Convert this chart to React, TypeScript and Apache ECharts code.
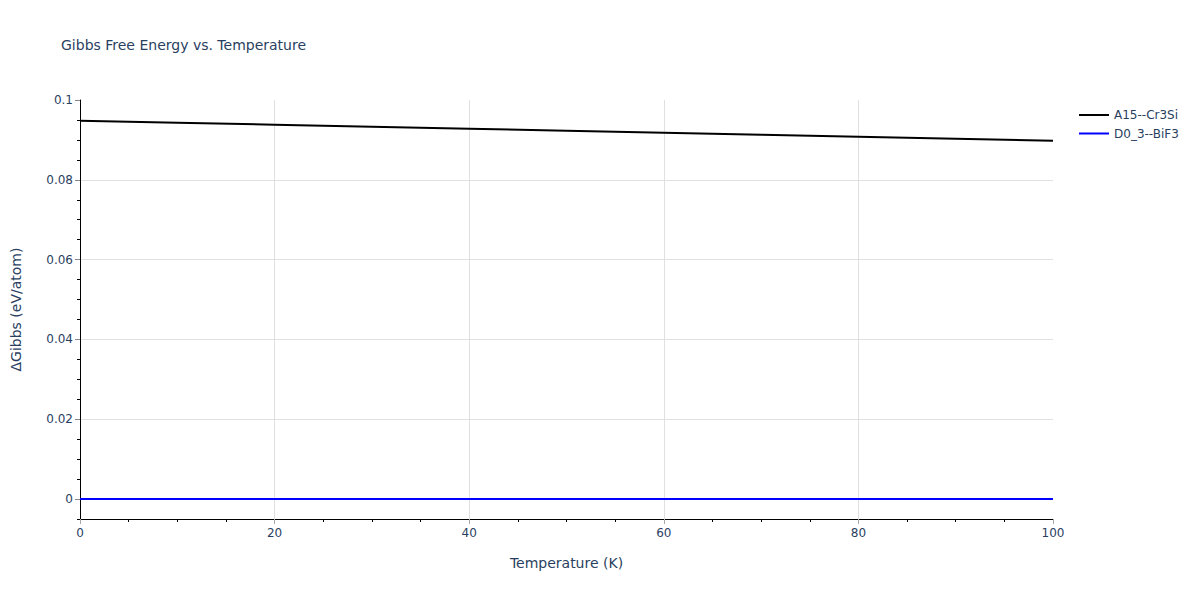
import React, { useEffect, useRef } from "react";
import * as echarts from "echarts";

const TITLE = "Gibbs Free Energy vs. Temperature";
const X_NAME = "Temperature (K)";
const Y_NAME = "ΔGibbs (eV/atom)";
const SERIES_NAMES = ["A15--Cr3Si", "D0_3--BiF3"];
const temperatures = [0, 10, 20, 30, 40, 50, 60, 70, 80, 90, 100];
const a15Values = [0.0948, 0.0943, 0.0938, 0.0933, 0.0928, 0.0923, 0.0918, 0.0913, 0.0908, 0.0903, 0.0898];
const d03Values = [0, 0, 0, 0, 0, 0, 0, 0, 0, 0, 0];
const Y_TICKS = [0, 0.02, 0.04, 0.06, 0.08, 0.1];
const Y_MINOR_TICKS = [-0.005, 0.005, 0.01, 0.015, 0.025, 0.03, 0.035, 0.045, 0.05, 0.055, 0.065, 0.07, 0.075, 0.085, 0.09, 0.095];
const Y_MIN = -0.005;
const Y_MAX = 0.1;
const X_MIN = 0;
const X_MAX = 100;
const X_INTERVAL = 20;

const FONT = "'DejaVu Sans', sans-serif";
const TEXT_COLOR = "#2a3f5f";
const GRID_COLOR = "#e0e0e0";

export default function App() {
  const ref = useRef<HTMLDivElement>(null);
  useEffect(() => {
    document.body.style.margin = "0";
    if (!ref.current) return;
    const chart = echarts.init(ref.current, null, { renderer: "svg" });
    const toPairs = (vals: number[]) => temperatures.map((t, i) => [t, vals[i]]);
    chart.setOption({
      animation: false,
      backgroundColor: "#ffffff",
      textStyle: { fontFamily: FONT },
      title: {
        text: TITLE,
        left: 61,
        top: 38,
        padding: 0,
        textStyle: { fontFamily: FONT, fontSize: 14, fontWeight: "normal", color: TEXT_COLOR },
      },
      legend: {
        orient: "vertical",
        left: 1079,
        top: 108,
        icon: "rect",
        itemWidth: 30,
        itemHeight: 2,
        itemGap: 4.5,
        padding: 0,
        textStyle: { fontFamily: FONT, fontSize: 12, color: TEXT_COLOR, lineHeight: 14 },
        data: SERIES_NAMES,
      },
      grid: { left: 80, right: 147, top: 100, bottom: 81, containLabel: false },
      xAxis: {
        type: "value",
        min: X_MIN,
        max: X_MAX,
        interval: X_INTERVAL,
        name: X_NAME,
        nameLocation: "middle",
        nameGap: 37,
        nameTextStyle: { fontFamily: FONT, fontSize: 14, color: TEXT_COLOR },
        axisLine: { show: true, onZero: false, lineStyle: { color: "#000000", width: 1 } },
        axisTick: { show: true, length: 5, lineStyle: { color: "#aaaaaa" } },
        minorTick: { show: true, splitNumber: 4, length: 3, lineStyle: { color: "#000000" } },
        axisLabel: { fontFamily: FONT, fontSize: 12, color: TEXT_COLOR, margin: 8 },
        splitLine: { show: true, showMinLine: false, showMaxLine: false, lineStyle: { color: GRID_COLOR, width: 1 } },
      },
      yAxis: [
        {
          type: "value",
          min: Y_MIN,
          max: Y_MAX,
          name: Y_NAME,
          nameLocation: "middle",
          nameGap: 57,
          nameTextStyle: { fontFamily: FONT, fontSize: 14, color: TEXT_COLOR },
          axisLine: { show: true, onZero: false, lineStyle: { color: "#000000", width: 1 } },
          axisTick: { show: true, length: 5, customValues: Y_TICKS, lineStyle: { color: "#888888" } },
          axisLabel: {
            fontFamily: FONT,
            fontSize: 12,
            color: TEXT_COLOR,
            margin: 7,
            customValues: Y_TICKS,
            formatter: (v: number) => String(Math.round(v * 1000) / 1000),
          },
          splitLine: { show: true, showMaxLine: false, lineStyle: { color: GRID_COLOR, width: 1 } },
        },
        {
          type: "value",
          min: Y_MIN,
          max: Y_MAX,
          position: "left",
          axisLine: { show: false },
          axisTick: { show: true, length: 3, customValues: Y_MINOR_TICKS, lineStyle: { color: "#000000" } },
          axisLabel: { show: false },
          splitLine: { show: false },
        },
      ],
      series: [
        {
          name: SERIES_NAMES[0],
          type: "line",
          yAxisIndex: 0,
          data: toPairs(a15Values),
          symbol: "none",
          lineStyle: { color: "#000000", width: 2 },
          itemStyle: { color: "#000000" },
          z: 3,
        },
        {
          name: SERIES_NAMES[1],
          type: "line",
          yAxisIndex: 0,
          data: toPairs(d03Values),
          symbol: "none",
          lineStyle: { color: "#0000ff", width: 2 },
          itemStyle: { color: "#0000ff" },
          z: 3,
        },
      ],
    });
    return () => chart.dispose();
  }, []);
  return <div ref={ref} style={{ width: 1200, height: 600 }} />;
}
